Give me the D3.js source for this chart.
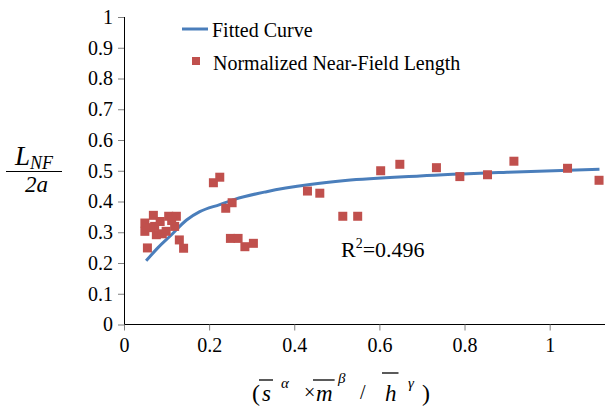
<!DOCTYPE html>
<meta charset="utf-8">
<style>
body { margin: 0; background: #fff; }
svg text { font-family: "Liberation Serif", "Times New Roman", serif; fill: #000; }
.tick text { font-size: 20px; }
.domain { stroke: #000; }
</style>
<body>
<div id="main"></div>
<script src="https://d3js.org/d3.v7.min.js"></script>
<script>
// measured points (normalized near-field length)
var xVals = [0.049, 0.049, 0.055, 0.069, 0.072, 0.076, 0.062, 0.085, 0.090, 0.099, 0.105, 0.119, 0.123, 0.112, 0.130, 0.140,
	0.210, 0.225, 0.239, 0.254, 0.250, 0.268, 0.284, 0.304, 0.431, 0.460, 0.514, 0.549,
	0.603, 0.648, 0.734, 0.789, 0.854, 0.916, 1.042, 1.116];
var yVals = [0.330, 0.303, 0.249, 0.355, 0.319, 0.292, 0.315, 0.335, 0.295, 0.303, 0.352, 0.319, 0.352, 0.338, 0.275, 0.248,
	0.461, 0.479, 0.378, 0.396, 0.280, 0.280, 0.253, 0.264, 0.434, 0.427, 0.352, 0.352,
	0.500, 0.521, 0.510, 0.481, 0.487, 0.531, 0.508, 0.469];

// fitted curve
var fitX = [0.052, 0.080, 0.108, 0.147, 0.178, 0.225, 0.260, 0.335, 0.437, 0.520, 0.695, 0.900, 1.117];
var fitY = [0.207, 0.250, 0.287, 0.340, 0.367, 0.390, 0.407, 0.432, 0.455, 0.468, 0.483, 0.495, 0.505];

var yTicks = [0, 0.1, 0.2, 0.3, 0.4, 0.5, 0.6, 0.7, 0.8, 0.9, 1];
var xTicks = [0, 0.2, 0.4, 0.6, 0.8, 1];

var serif = "'Liberation Serif', 'Times New Roman', serif";

var svg = d3.select("#main").append("svg")
	.attr("width", 605)
	.attr("height", 406)
	.attr("font-family", serif);

var x = d3.scaleLinear().domain([0, 1.13]).range([124, 605]);
var y = d3.scaleLinear().domain([0, 1]).range([324.5, 17]);

// axes
svg.append("g")
	.attr("transform", "translate(124,0)")
	.call(d3.axisLeft(y).tickValues(yTicks).tickSize(6).tickPadding(5).tickFormat(d3.format("")))
	.attr("font-family", serif).attr("font-size", 20)
	.call(function(g) { g.select(".domain").attr("d", "M0.5," + y(1) + "V" + y(0)); });

svg.append("g")
	.attr("transform", "translate(0,324.5)")
	.call(d3.axisBottom(x).tickValues(xTicks).tickSize(6).tickPadding(7).tickFormat(d3.format("")))
	.attr("font-family", serif).attr("font-size", 20)
	.call(function(g) { g.select(".domain").attr("d", "M" + x(0) + ",0H605"); });

svg.selectAll(".tick line").attr("stroke", "#7f7f7f");

// fitted curve
var line = d3.line()
	.x(function(d) { return x(d[0]); })
	.y(function(d) { return y(d[1]); })
	.curve(d3.curveMonotoneX);

svg.append("path")
	.datum(d3.zip(fitX, fitY))
	.attr("d", line)
	.attr("fill", "none")
	.attr("stroke", "#4a7ebb")
	.attr("stroke-width", 3);

// markers
var sz = 9;
svg.selectAll(".pt")
	.data(d3.zip(xVals, yVals))
	.enter().append("rect")
	.attr("class", "pt")
	.attr("x", function(d) { return x(d[0]) - sz / 2; })
	.attr("y", function(d) { return y(d[1]) - sz / 2; })
	.attr("width", sz)
	.attr("height", sz)
	.attr("fill", "#c0504d");

// legend
svg.append("line")
	.attr("x1", 182).attr("x2", 208)
	.attr("y1", 29).attr("y2", 29)
	.attr("stroke", "#4a7ebb").attr("stroke-width", 3);
svg.append("text").attr("x", 212).attr("y", 37).style("font-size", "20px").text("Fitted Curve");
svg.append("rect").attr("x", 192).attr("y", 57).attr("width", 8).attr("height", 8).attr("fill", "#c0504d");
svg.append("text").attr("x", 213).attr("y", 70).style("font-size", "20px").text("Normalized Near-Field Length");

// R squared
var r2 = svg.append("text").attr("x", 341).attr("y", 257).style("font-size", "22px");
r2.append("tspan").text("R");
r2.append("tspan").attr("dy", -9).style("font-size", "14px").text("2");
r2.append("tspan").attr("dy", 9).text("=0.496");

// y label: L_NF / 2a
var yl = svg.append("text").attr("x", 15).attr("y", 165).style("font-style", "italic").style("font-size", "27px");
yl.append("tspan").text("L");
yl.append("tspan").attr("dy", 4).style("font-size", "18px").text("NF");
svg.append("line").attr("x1", 6).attr("x2", 62).attr("y1", 171.5).attr("y2", 171.5).attr("stroke", "#000").attr("stroke-width", 1.2);
svg.append("text").attr("x", 25).attr("y", 192).style("font-style", "italic").style("font-size", "23px").text("2a");

// x label with overlines
var parts = [
	{t: "(", x: 252, y: 401, size: 24, it: false},
	{t: "s", x: 262, y: 401, size: 23, it: true, over: 380},
	{t: "α", x: 281, y: 388, size: 15, it: true},
	{t: "×", x: 304, y: 399, size: 20, it: false},
	{t: "m", x: 316, y: 401, size: 23, it: true, over: 380},
	{t: "β", x: 338, y: 383, size: 15, it: true},
	{t: "/", x: 360, y: 399, size: 20, it: false},
	{t: "h", x: 385, y: 401, size: 23, it: true, over: 373},
	{t: "γ", x: 408, y: 388, size: 15, it: true},
	{t: ")", x: 422, y: 401, size: 24, it: false}
];
parts.forEach(function(p) {
	var t = svg.append("text")
		.attr("x", p.x).attr("y", p.y)
		.style("font-size", p.size + "px")
		.style("font-style", p.it ? "italic" : "normal")
		.text(p.t);
	if (p.over) {
		var b = t.node().getBBox();
		svg.append("line")
			.attr("x1", b.x - 3).attr("x2", b.x + b.width + 2)
			.attr("y1", p.over).attr("y2", p.over)
			.attr("stroke", "#000").attr("stroke-width", 1.3);
	}
});
</script>
</body>
